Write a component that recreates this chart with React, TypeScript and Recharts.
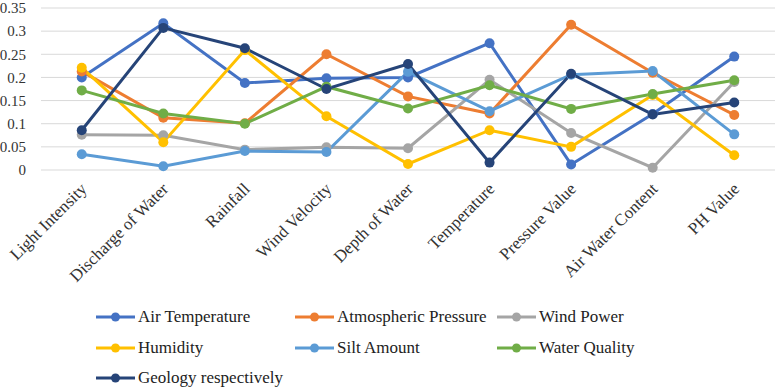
import React from 'react'
import { CartesianGrid, Legend, Line, LineChart, XAxis, YAxis } from 'recharts'

const categories = [
  'Light Intensity',
  'Discharge of Water',
  'Rainfall',
  'Wind Velocity',
  'Depth of Water',
  'Temperature',
  'Pressure Value',
  'Air Water Content',
  'PH Value',
]

const airTemperature = [0.2, 0.317, 0.188, 0.198, 0.2, 0.274, 0.012, 0.121, 0.245]
const atmosphericPressure = [0.213, 0.113, 0.101, 0.25, 0.159, 0.122, 0.314, 0.21, 0.119]
const windPower = [0.076, 0.075, 0.044, 0.049, 0.047, 0.195, 0.08, 0.005, 0.19]
const humidity = [0.221, 0.06, 0.259, 0.116, 0.013, 0.086, 0.05, 0.162, 0.032]
const siltAmount = [0.034, 0.008, 0.041, 0.039, 0.212, 0.127, 0.206, 0.214, 0.077]
const waterQuality = [0.172, 0.122, 0.1, 0.18, 0.133, 0.183, 0.132, 0.164, 0.194]
const geology = [0.086, 0.307, 0.263, 0.175, 0.229, 0.016, 0.208, 0.12, 0.146]

const yTicks = [0, 0.05, 0.1, 0.15, 0.2, 0.25, 0.3, 0.35]

const series = [
  { key: 'air', label: 'Air Temperature', color: '#4472C4', values: airTemperature },
  { key: 'atm', label: 'Atmospheric Pressure', color: '#ED7D31', values: atmosphericPressure },
  { key: 'wind', label: 'Wind Power', color: '#A5A5A5', values: windPower },
  { key: 'hum', label: 'Humidity', color: '#FFC000', values: humidity },
  { key: 'silt', label: 'Silt Amount', color: '#5B9BD5', values: siltAmount },
  { key: 'water', label: 'Water Quality', color: '#70AD47', values: waterQuality },
  { key: 'geo', label: 'Geology respectively', color: '#264478', values: geology },
]

const data = categories.map((name, i) => {
  const row: Record<string, number | string> = { name }
  series.forEach((s) => {
    row[s.key] = s.values[i]
  })
  return row
})

const FONT = "'Liberation Serif', 'Times New Roman', serif"

// rotated category label, anchored at the end of its baseline
function CategoryTick({ x, y, payload }: any) {
  return (
    <g transform={`translate(${x + 6},${y + 12}) rotate(-45)`}>
      <text x={0} y={0} textAnchor="end" fontFamily={FONT} fontSize={17} fill="#333">
        {payload.value}
      </text>
    </g>
  )
}

const legendCols = [96, 295, 497]

function LegendBlock() {
  return (
    <div style={{ position: 'relative', width: 780, height: 85, fontFamily: FONT, fontSize: 17, color: '#222' }}>
      {series.map((s, i) => {
        const col = i % 3
        const row = Math.floor(i / 3)
        return (
          <div
            key={s.key}
            style={{
              position: 'absolute',
              left: legendCols[col],
              top: 4 + row * 30.5,
              display: 'flex',
              alignItems: 'center',
              height: 20,
              whiteSpace: 'nowrap',
            }}
          >
            <svg width={39} height={10} style={{ marginRight: 3 }}>
              <line x1={0} y1={5} x2={39} y2={5} stroke={s.color} strokeWidth={3} />
              <circle cx={19.5} cy={5} r={4.5} fill={s.color} />
            </svg>
            <span>{s.label}</span>
          </div>
        )
      })}
    </div>
  )
}

export default function App() {
  return (
    <div style={{ position: 'absolute', left: 0, top: 0, width: 780, height: 388, background: '#fff' }}>
      <LineChart width={780} height={388} data={data} margin={{ top: 8, right: 5, left: 0, bottom: 0 }}>
        <CartesianGrid vertical={false} stroke="#d9d9d9" strokeWidth={1} />
        <XAxis
          dataKey="name"
          interval={0}
          axisLine={false}
          tickLine={false}
          height={133}
          padding={{ left: 40.75, right: 40.75 }}
          tick={<CategoryTick />}
        />
        <YAxis
          domain={[0, 0.35]}
          ticks={yTicks}
          interval={0}
          width={41}
          axisLine={false}
          tickLine={false}
          tickMargin={9}
          tick={{ fontFamily: FONT, fontSize: 15, fill: '#333' }}
        />
        <Legend verticalAlign="bottom" content={() => <LegendBlock />} />
        {series.map((s) => (
          <Line
            key={s.key}
            type="linear"
            dataKey={s.key}
            name={s.label}
            stroke={s.color}
            strokeWidth={3}
            dot={{ r: 5, fill: s.color, stroke: s.color, strokeWidth: 0 }}
            isAnimationActive={false}
          />
        ))}
      </LineChart>
    </div>
  )
}
